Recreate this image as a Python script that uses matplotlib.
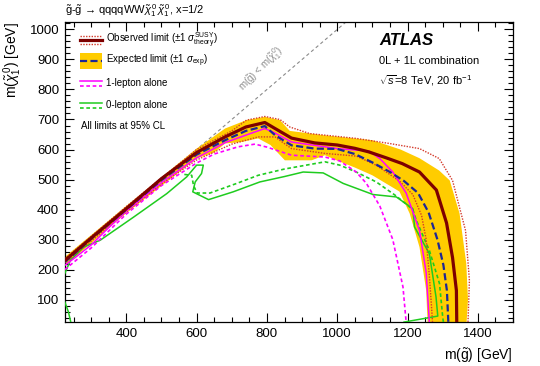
import matplotlib
matplotlib.use("Agg")
import matplotlib.pyplot as plt
from matplotlib.patches import Rectangle
from matplotlib.ticker import MultipleLocator

plt.rcParams["font.family"] = ["Liberation Sans", "DejaVu Sans"]
plt.rcParams["mathtext.fontset"] = "custom"
plt.rcParams["mathtext.rm"] = "Liberation Sans"
plt.rcParams["mathtext.it"] = "Liberation Sans:italic"
plt.rcParams["mathtext.bf"] = "Liberation Sans:bold"

# --- limit contours, m(gluino) [GeV] vs m(neutralino) [GeV] ---
obs_x = [225, 300, 400, 500, 600, 681, 740, 794, 823, 870, 936, 1000, 1050, 1090, 1140, 1185, 1234, 1282, 1311, 1328, 1339, 1340]
obs_y = [230, 305, 403, 503, 590, 642, 675, 690, 670, 638, 622, 615, 604, 592, 572, 553, 525, 465, 355, 240, 130, 25]

exp_x = [225, 300, 400, 500, 600, 681, 740, 794, 823, 870, 936, 1000, 1050, 1100, 1150, 1190, 1230, 1260, 1285, 1302, 1312, 1316]
exp_y = [225, 302, 400, 498, 583, 631, 662, 678, 648, 614, 603, 602, 585, 557, 525, 495, 455, 390, 300, 215, 130, 25]

band_up_x = [225, 400, 600, 681, 742, 794, 837, 865, 960, 1100, 1180, 1234, 1290, 1320, 1348, 1367, 1372, 1368]
band_up_y = [242, 412, 603, 670, 698, 709, 698, 662, 648, 631, 600, 571, 530, 497, 387, 221, 100, 25]
band_lo_x = [225, 400, 600, 650, 681, 728, 775, 810, 851, 927, 965, 1000, 1050, 1100, 1177, 1206, 1234, 1253, 1257]
band_lo_y = [212, 388, 570, 590, 620, 625, 637, 615, 564, 564, 581, 563, 540, 514, 460, 387, 275, 131, 25]

theo_up_x = [225, 400, 600, 700, 742, 794, 837, 865, 922, 1054, 1149, 1234, 1290, 1328, 1345, 1365, 1376, 1372]
theo_up_y = [236, 410, 600, 662, 698, 710, 700, 675, 653, 637, 620, 603, 570, 497, 420, 330, 164, 25]
theo_lo_x = [225, 400, 500, 600, 700, 775, 823, 870, 965, 1055, 1112, 1177, 1215, 1240, 1253, 1262, 1268, 1271]
theo_lo_y = [222, 392, 485, 565, 618, 642, 642, 603, 587, 578, 547, 495, 450, 380, 300, 180, 80, 25]

l1_obs_x = [225, 260, 300, 350, 400, 500, 600, 681, 750, 794, 823, 870, 965, 1000, 1090, 1121, 1158, 1196, 1234, 1253, 1262]
l1_obs_y = [214, 245, 282, 340, 395, 490, 572, 623, 652, 670, 655, 625, 609, 603, 595, 570, 525, 455, 330, 190, 25]
l1_exp_x = [225, 300, 400, 500, 600, 650, 718, 766, 800, 870, 965, 1007, 1054, 1083, 1121, 1158, 1187, 1196]
l1_exp_y = [200, 272, 385, 480, 555, 585, 609, 618, 608, 581, 575, 562, 525, 487, 412, 300, 142, 25]

l0_obs_x = [225, 241, 279, 326, 421, 515, 572, 600, 619, 614, 596, 589, 634, 704, 780, 850, 903, 960, 1017, 1102, 1168, 1215, 1220, 1262, 1281, 1286, 1190]
l0_obs_y = [187, 231, 275, 298, 375, 453, 509, 548, 548, 520, 492, 459, 433, 459, 492, 510, 525, 522, 487, 450, 442, 403, 342, 253, 109, 45, 25]
l0_arc_x = [225, 235, 242]
l0_arc_y = [92, 60, 25]
l0_exp_x = [565, 586, 591, 601, 638, 714, 775, 850, 965, 1007, 1054, 1111, 1168, 1215, 1225, 1262, 1291, 1300, 1302]
l0_exp_y = [517, 514, 481, 455, 455, 487, 514, 535, 559, 548, 525, 492, 445, 400, 364, 264, 153, 42, 25]

diag_x = [225, 1025]
diag_y = [225, 1025]

C_OBS = "#7d0000"
C_THEO = "#d43a2a"
C_BAND = "#ffcc00"
C_EXP = "#1c2796"
C_L1 = "#ff00ff"
C_L0 = "#1fcc1f"

fig = plt.figure(figsize=(5.4, 3.66), dpi=100)
ax = fig.add_axes([0.120, 0.120, 0.830, 0.820])

ax.plot(diag_x, diag_y, color="#8a8a8a", lw=0.8, ls=(0, (3, 2.5)), zorder=1)
ax.text(785, 868, r"m($\tilde{\mathrm{g}}$) < m($\tilde{\chi}^{\,0}_{1}$)", color="#8a8a8a",
        fontsize=7, rotation=45, ha="center", va="center")

band_x = band_up_x + band_lo_x[::-1]
band_y = band_up_y + band_lo_y[::-1]
ax.fill(band_x, band_y, color=C_BAND, lw=0, zorder=2)

ax.plot(l0_obs_x, l0_obs_y, color=C_L0, lw=1.1, zorder=3)
ax.plot(l0_arc_x, l0_arc_y, color=C_L0, lw=1.1, zorder=3)
ax.plot(l0_exp_x, l0_exp_y, color=C_L0, lw=1.2, ls=(0, (2.2, 1.6)), zorder=3)
ax.plot(l1_exp_x, l1_exp_y, color=C_L1, lw=1.2, ls=(0, (2.2, 1.6)), zorder=3)
ax.plot(theo_up_x, theo_up_y, color=C_THEO, lw=1.0, ls=(0, (1, 1)), zorder=4)
ax.plot(theo_lo_x, theo_lo_y, color=C_THEO, lw=1.0, ls=(0, (1, 1)), zorder=4)
ax.plot(l1_obs_x, l1_obs_y, color=C_L1, lw=1.1, zorder=4)
ax.plot(exp_x, exp_y, color=C_EXP, lw=1.6, ls=(0, (3.2, 1.5)), zorder=5)
ax.plot(obs_x, obs_y, color=C_OBS, lw=2.3, zorder=6)

ax.set_xlim(225, 1500)
ax.set_ylim(25, 1025)
ax.xaxis.set_major_locator(MultipleLocator(200))
ax.xaxis.set_minor_locator(MultipleLocator(50))
ax.yaxis.set_major_locator(MultipleLocator(100))
ax.yaxis.set_minor_locator(MultipleLocator(20))
ax.tick_params(which="both", direction="in", top=True, right=True, labelsize=9.5, width=0.8)
ax.tick_params(which="major", length=6.5, pad=4)
ax.tick_params(which="minor", length=3.3)
for s in ax.spines.values():
    s.set_linewidth(0.9)

ax.set_xlabel(r"m($\tilde{\mathrm{g}}$) [GeV]", fontsize=10, loc="right")
ax.set_ylabel(r"m($\tilde{\chi}^{\,0}_{1}$) [GeV]", fontsize=10, loc="top")
ax.xaxis.set_label_coords(1.0, -0.08)
ax.yaxis.set_label_coords(-0.09, 1.0)

fig.text(0.12, 0.972,
         r"$\tilde{\mathrm{g}}$-$\tilde{\mathrm{g}}$ → qqqqWW$\tilde{\chi}^{\,0}_{1}\,\tilde{\chi}^{\,0}_{1}$, x=1/2",
         fontsize=8, ha="left", va="center")

ax.text(0.701, 0.937, "ATLAS", transform=ax.transAxes, fontsize=12, fontweight="bold",
        fontstyle="italic", ha="left", va="center")
ax.text(0.701, 0.870, "0L + 1L combination", transform=ax.transAxes, fontsize=8,
        ha="left", va="center")
ax.text(0.701, 0.805, r"$\sqrt{s}$=8 TeV, 20 fb$^{-1}$", transform=ax.transAxes, fontsize=8,
        ha="left", va="center")

# legend, drawn by hand
x0, x1, xt = 0.0335, 0.0826, 0.0915
rows = [0.940, 0.870, 0.797, 0.723, 0.653]
tr = ax.transAxes
ax.plot([x0, x1], [rows[0], rows[0]], color=C_OBS, lw=2.3, transform=tr)
for dy in (0.012, -0.012):
    ax.plot([x0, x1], [rows[0] + dy] * 2, color=C_THEO, lw=1.0, ls=(0, (1, 1)), transform=tr)
ax.add_patch(Rectangle((x0, rows[1] - 0.028), x1 - x0, 0.056, color=C_BAND, lw=0, transform=tr))
ax.plot([x0, x1], [rows[1]] * 2, color=C_EXP, lw=1.6, ls=(0, (3.2, 1.5)), transform=tr)
ax.plot([x0, x1], [rows[2] + 0.007] * 2, color=C_L1, lw=1.1, transform=tr)
ax.plot([x0, x1], [rows[2] - 0.009] * 2, color=C_L1, lw=1.2, ls=(0, (2.2, 1.6)), transform=tr)
ax.plot([x0, x1], [rows[3] + 0.007] * 2, color=C_L0, lw=1.1, transform=tr)
ax.plot([x0, x1], [rows[3] - 0.009] * 2, color=C_L0, lw=1.2, ls=(0, (2.2, 1.6)), transform=tr)

labels = [r"Observed limit (±1 $\sigma^{\mathrm{SUSY}}_{\mathrm{theory}}$)",
          r"Expected limit (±1 $\sigma_{\mathrm{exp}}$)",
          "1-lepton alone", "0-lepton alone"]
for y, lab in zip(rows[:4], labels):
    ax.text(xt, y, lab, transform=tr, fontsize=7, ha="left", va="center")
ax.text(0.036, rows[4], "All limits at 95% CL", transform=tr, fontsize=7, ha="left", va="center")

fig.savefig("out.png", dpi=100)
